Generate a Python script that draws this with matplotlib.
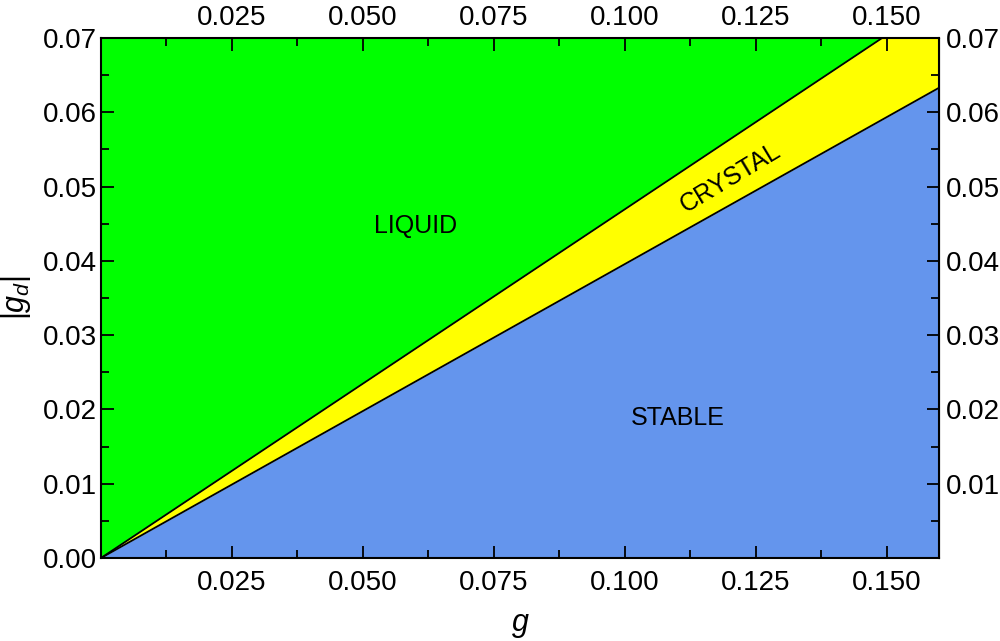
import matplotlib.pyplot as plt
from matplotlib.ticker import MultipleLocator, FixedLocator

plt.rcParams['font.family'] = ['Liberation Sans', 'DejaVu Sans']
plt.rcParams['mathtext.fontset'] = 'custom'
plt.rcParams['mathtext.it'] = 'Liberation Sans:italic'
plt.rcParams['mathtext.rm'] = 'Liberation Sans'

# phase boundaries (straight lines through the origin)
g = [0.0, 0.16]
liquid_crystal = [0.0, 0.0751]   # upper boundary
crystal_stable = [0.0, 0.0633]   # lower boundary
y_top = 0.07

x_ticks = [0.025, 0.050, 0.075, 0.100, 0.125, 0.150]
y_ticks_left = [0.00, 0.01, 0.02, 0.03, 0.04, 0.05, 0.06, 0.07]
y_ticks_right = [0.01, 0.02, 0.03, 0.04, 0.05, 0.06, 0.07]

fig = plt.figure(figsize=(10, 6.41), dpi=100)
ax = fig.add_axes([0.101, 0.1295, 0.838, 0.8112])

ax.fill_between(g, liquid_crystal, [y_top, y_top], color='#00ff00', lw=0)
ax.fill_between(g, crystal_stable, liquid_crystal, color='#ffff00', lw=0)
ax.fill_between(g, [0, 0], crystal_stable, color='#6495ed', lw=0)
ax.plot(g, liquid_crystal, color='black', lw=1.3)
ax.plot(g, crystal_stable, color='black', lw=1.3)

ax.set_xlim(0, 0.16)
ax.set_ylim(0, 0.07)

ax.text(0.0601, 0.0447, 'LIQUID', fontsize=18, ha='center', va='center')
ax.text(0.1102, 0.0188, 'STABLE', fontsize=18, ha='center', va='center')
ax.text(0.1201, 0.0512, 'CRYSTAL', fontsize=18, ha='center', va='center', rotation=31)

ax.xaxis.set_major_locator(FixedLocator(x_ticks))
ax.xaxis.set_minor_locator(MultipleLocator(0.0125))
ax.yaxis.set_major_locator(FixedLocator(y_ticks_left))
ax.yaxis.set_minor_locator(MultipleLocator(0.005))
ax.set_xticklabels(['%.3f' % t for t in x_ticks])
ax.set_yticklabels(['%.2f' % t for t in y_ticks_left])
ax.tick_params(which='both', direction='in', top=True, right=True, width=1.3, labelsize=20)
ax.tick_params(axis='x', pad=9)
ax.tick_params(axis='y', pad=3)
ax.tick_params(which='major', length=9)
ax.tick_params(which='minor', length=6)
for s in ax.spines.values():
    s.set_linewidth(1.5)

# top axis
axt = ax.secondary_xaxis('top')
axt.xaxis.set_major_locator(FixedLocator(x_ticks))
axt.set_xticklabels(['%.3f' % t for t in x_ticks])
axt.tick_params(direction='in', length=0, labelsize=20, pad=5)

# right axis
axr = ax.secondary_yaxis('right')
axr.yaxis.set_major_locator(FixedLocator(y_ticks_right))
axr.set_yticklabels(['%.2f' % t for t in y_ticks_right])
axr.tick_params(direction='in', length=0, labelsize=20, pad=5)

ax.set_xlabel('$g$', fontsize=22, labelpad=10)
ax.set_ylabel('$|g_d|$', fontsize=22)
ax.yaxis.set_label_coords(-0.081, 0.5)

fig.savefig('out.png', dpi=100)
